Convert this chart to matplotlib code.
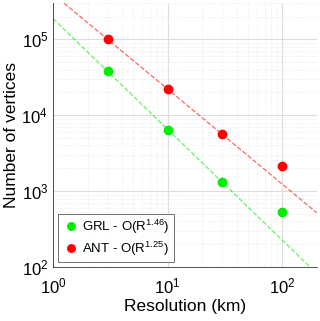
import numpy as np
import matplotlib.pyplot as plt

plt.rcParams['font.family'] = ['Liberation Sans', 'DejaVu Sans']
plt.rcParams['mathtext.fontset'] = 'custom'
plt.rcParams['mathtext.rm'] = 'Liberation Sans'
plt.rcParams['mathtext.it'] = 'Liberation Sans'

# resolution (km) and number of mesh vertices
resolution = [3, 10, 30, 100]
grl_vertices = [38000, 6400, 1320, 530]
ant_vertices = [100000, 22000, 5600, 2130]
grl_label = 'GRL - O(R$^{1.46}$)'
ant_label = 'ANT - O(R$^{1.25}$)'

fig = plt.figure(figsize=(3.2, 3.21), dpi=100)
ax = fig.add_axes([0.166, 0.168, 0.824, 0.822])

xfit = np.array([1, 200])
for yv, col, lab in [(grl_vertices, '#00ee00', grl_label), (ant_vertices, '#ff0000', ant_label)]:
    # power-law fit on the three finest resolutions
    p = np.polyfit(np.log10(resolution[:3]), np.log10(yv[:3]), 1)
    ax.plot(xfit, 10 ** np.polyval(p, np.log10(xfit)), '--', color=col, alpha=0.6, lw=0.9)
    ax.plot(resolution, yv, 'o', color=col, ms=6, label=lab, zorder=3)

ax.set_xscale('log')
ax.set_yscale('log')
ax.set_xlim(1, 200)
ax.set_ylim(100, 3e5)
ax.grid(True, which='major', color='#dddddd', lw=0.8)
ax.grid(True, which='minor', color='#e6e6e6', lw=0.6, ls=':')
ax.tick_params(which='both', direction='in', labelsize=12, length=0)
ax.tick_params(axis='x', pad=7)
for s in ax.spines.values():
    s.set_color('#333333')
    s.set_linewidth(0.6)
ax.spines['top'].set_visible(False)
ax.spines['right'].set_visible(False)
ax.set_xlabel('Resolution (km)', fontsize=12.5, labelpad=2)
ax.set_ylabel('Number of vertices', fontsize=12.5, labelpad=2)
leg = ax.legend(loc='lower left', fontsize=9.5, fancybox=False, edgecolor='#333333',
                handletextpad=0.2, borderaxespad=0.4, labelspacing=0.3, borderpad=0.3,
                handlelength=1.3, markerscale=0.9)
leg.get_frame().set_linewidth(0.6)

fig.savefig('out.png', dpi=100)
